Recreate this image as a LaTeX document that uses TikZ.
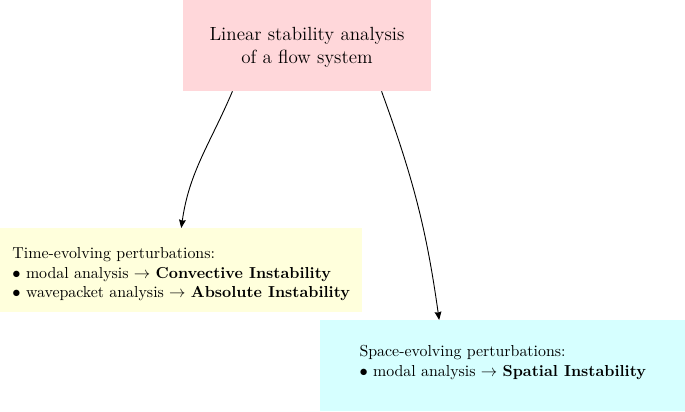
\documentclass[tikz,border=0pt]{standalone}
\usepackage{amsmath}
\usepackage{amssymb}
\usepackage{tikz}
\usetikzlibrary{shapes,arrows,arrows.meta,positioning,calc}

\definecolor{flowpink}{RGB}{255,215,218}
\definecolor{timeyellow}{RGB}{255,255,220}
\definecolor{spacecyan}{RGB}{214,255,255}

\begin{document}
\begin{tikzpicture}[
    x=0.6667pt, y=0.6667pt,
    stage/.style={rectangle, inner sep=4pt, align=left, font=\fontsize{10.6}{13}\selectfont},
    arrow/.style={->, >={Stealth[length=5.5pt, width=4.5pt, inset=0.6pt]}, semithick}
]
\useasboundingbox (0,0) rectangle (685,411);
\node[stage, align=center, font=\fontsize{12.7}{15.4}\selectfont, fill=flowpink, minimum width=165.3pt, minimum height=60.7pt] (lsa) at (307,365.5) {\rule{0pt}{11pt}Linear stability analysis\\of a flow system};
\node[stage, fill=timeyellow, minimum width=241.3pt, minimum height=56pt, anchor=north west] (time) at (0,183) {\rule{0pt}{13pt}Time-evolving perturbations:\\$\bullet$ modal analysis $\rightarrow$ \textbf{Convective Instability}\\$\bullet$ wavepacket analysis $\rightarrow$ \textbf{Absolute Instability}};
\node[stage, fill=spacecyan, minimum width=243.3pt, minimum height=60.7pt, anchor=north west] (space) at (320,91) {Space-evolving perturbations:\\$\bullet$ modal analysis $\rightarrow$ \textbf{Spatial Instability}\\[-6.4pt]};

\draw[arrow] ($(lsa.south west)!0.2!(lsa.south east)$) to[out=-113, in=82] (time.north);
\draw[arrow] ($(lsa.south west)!0.8!(lsa.south east)$) to[out=-70, in=98] ($(space.north west)!0.326!(space.north east)$);
\end{tikzpicture}
\end{document}
